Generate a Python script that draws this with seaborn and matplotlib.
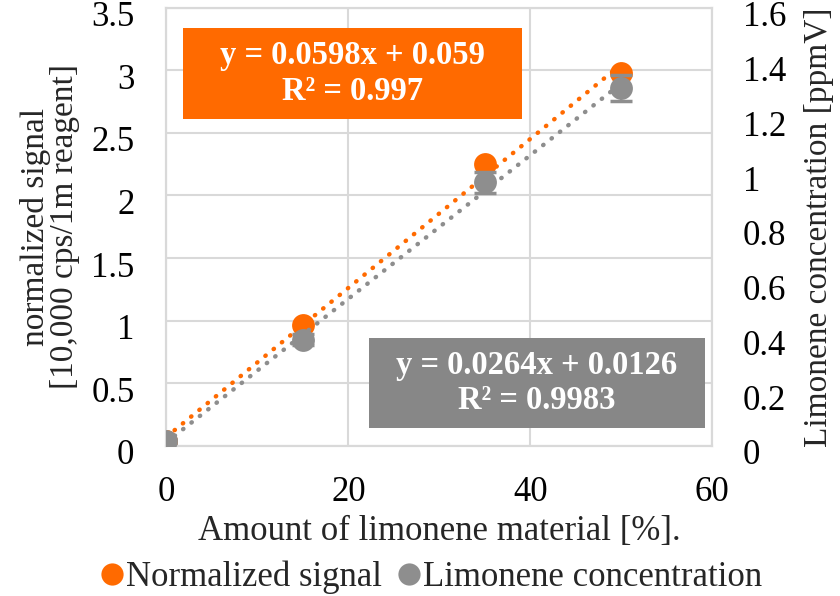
import seaborn as sns
import pandas as pd
import numpy as np
import matplotlib.pyplot as plt
from matplotlib.ticker import FuncFormatter
from matplotlib.lines import Line2D
from matplotlib.patches import Rectangle
from matplotlib.transforms import ScaledTranslation

sns.set_style("whitegrid")
plt.rcParams["font.family"] = ["Liberation Serif", "DejaVu Serif"]

# data
amount = [0, 15, 35, 50]
norm_signal = [0.04, 0.967, 2.25, 2.98]
limonene_conc = [0.016, 0.387, 0.962, 1.307]
limonene_err = [0.01, 0.02, 0.037, 0.047]

orange = "#FF6A00"
gray = "#8E8E8E"

df = pd.DataFrame({"amount": amount, "signal": norm_signal, "conc": limonene_conc})

fig = plt.figure(figsize=(8.4, 5.96), dpi=100)
ax = fig.add_axes([0.198, 0.252, 0.65, 0.735])
ax2 = ax.twinx()

sns.regplot(x="amount", y="signal", data=df, ax=ax, ci=None, color=orange,
            scatter_kws={"s": 270, "alpha": 1, "zorder": 3, "linewidths": 0},
            line_kws={"color": orange, "lw": 3.2, "linestyle": (0, (0.1, 2.3)),
                      "dash_capstyle": "round", "zorder": 4})

ax2.errorbar(amount, limonene_conc, yerr=limonene_err, fmt="none",
             ecolor=gray, elinewidth=1.5, capsize=8, capthick=2.5, zorder=2)
sns.regplot(x="amount", y="conc", data=df, ax=ax2, ci=None, color=gray,
            scatter_kws={"s": 270, "alpha": 1, "zorder": 3, "linewidths": 0},
            line_kws={"color": gray, "lw": 3.2, "linestyle": (0, (0.1, 2.3)),
                      "dash_capstyle": "round", "zorder": 4})

ax.set_xlim(0, 60)
ax.set_ylim(0, 3.5)
ax2.set_ylim(0, 1.6)
ax.set_xticks([0, 20, 40, 60])
ax.set_yticks(np.arange(0, 3.51, 0.5))
ax2.set_yticks(np.arange(0, 1.61, 0.2))
fmt = FuncFormatter(lambda v, p: f"{v:g}")
ax.yaxis.set_major_formatter(fmt)
ax2.yaxis.set_major_formatter(fmt)

ax.grid(True, color="#D9D9D9", lw=1.5)
ax2.grid(False)
for a in (ax, ax2):
    for s in a.spines.values():
        s.set_color("#D9D9D9")
        s.set_linewidth(1.5)
    a.tick_params(length=0, labelsize=25, colors="black")
ax.tick_params(axis="y", pad=23)
ax.tick_params(axis="x", pad=22)
ax2.tick_params(axis="y", pad=22)

# excel puts the value labels a few pixels below their gridline
shift = ScaledTranslation(0, -0.06, fig.dpi_scale_trans)
for lab in ax.get_yticklabels() + ax2.get_yticklabels():
    lab.set_transform(lab.get_transform() + shift)

ax.set_xlabel("Amount of limonene material [%].", fontsize=25, labelpad=4)
ax.set_ylabel("normalized signal\n[10,000 cps/1m reagent]", fontsize=24,
              labelpad=8, linespacing=0.95)
ax2.set_ylabel("Limonene concentration [ppmV]", fontsize=24, labelpad=12)

# trendline equation boxes
boxes = [((0.218, 0.800), 0.403, 0.153, orange, "y = 0.0598x + 0.059\nR² = 0.997"),
         ((0.439, 0.282), 0.400, 0.151, "#878787", "y = 0.0264x + 0.0126\nR² = 0.9983")]
for (x0, y0), w, h, c, txt in boxes:
    fig.add_artist(Rectangle((x0, y0), w, h, transform=fig.transFigure,
                             fc=c, ec="none", zorder=10))
    fig.text(x0 + w / 2, y0 + h / 2, txt, ha="center", va="center", fontsize=23.5,
             fontweight="bold", color="white", linespacing=1.2, zorder=11)

handles = [Line2D([], [], ls="none", marker="o", ms=16, color=orange, mec="none"),
           Line2D([], [], ls="none", marker="o", ms=16, color=gray, mec="none")]
fig.legend(handles, ["Normalized signal", "Limonene concentration"], loc="center",
           bbox_to_anchor=(0.51, 0.032), ncol=2, frameon=False, fontsize=25,
           handletextpad=-0.1, columnspacing=0.3, handlelength=1.0, borderaxespad=0)

fig.savefig("out.png", dpi=100)
